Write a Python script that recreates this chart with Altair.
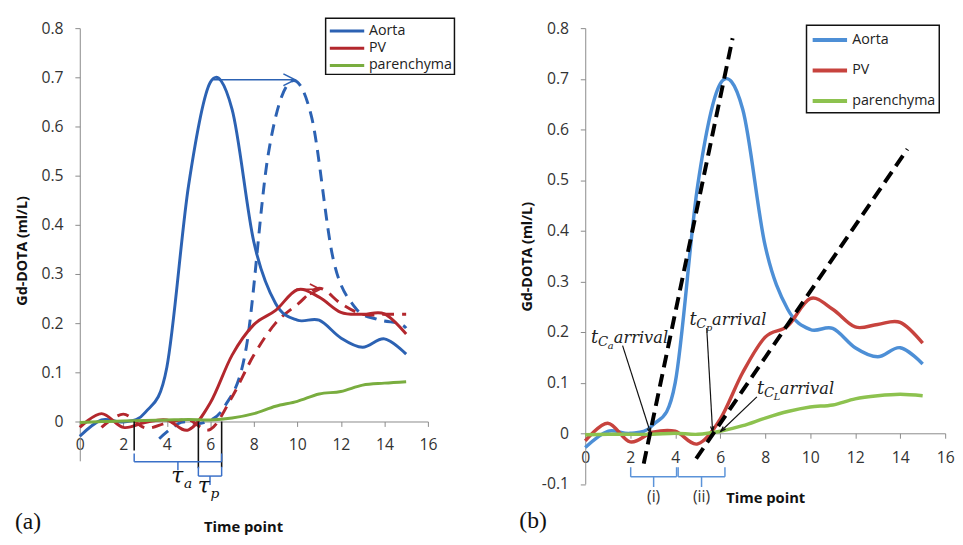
import math
import altair as alt
import pandas as pd

# ---------------- values ----------------
time_pts = list(range(16))
series_names = ["Aorta", "PV", "parenchyma"]

# panel (a)
aorta_a = [-0.03, 0.003, -0.001, 0.018, 0.11, 0.48, 0.69, 0.635, 0.365, 0.24, 0.206, 0.206, 0.17, 0.151, 0.168, 0.137]
pv_a = [-0.012, 0.016, -0.012, -0.002, 0.003, -0.017, 0.038, 0.135, 0.197, 0.226, 0.268, 0.253, 0.222, 0.218, 0.219, 0.178]
par_a = [-0.002, 0.0, 0.001, 0.002, 0.003, 0.004, 0.003, 0.007, 0.016, 0.031, 0.041, 0.056, 0.061, 0.074, 0.078, 0.081]
shift_aorta_x = [3.65, 4.65, 5.65, 6.65, 7.65, 8.65, 9.65, 10.65, 11.65, 12.65, 13.65, 14.65, 15.0]
shift_aorta_y = [-0.035, -0.002, -0.003, 0.03, 0.15, 0.54, 0.69, 0.62, 0.33, 0.232, 0.208, 0.2, 0.19]
shift_pv_x = list(range(1, 16))
shift_pv_y = [-0.012, 0.015, -0.013, -0.003, 0.003, -0.016, 0.05, 0.135, 0.2, 0.238, 0.271, 0.24, 0.218, 0.218, 0.218]

# panel (b)
aorta_b = [-0.028, 0.004, 0.0, 0.016, 0.1, 0.49, 0.69, 0.64, 0.37, 0.245, 0.205, 0.207, 0.169, 0.151, 0.169, 0.137]
pv_b = [-0.015, 0.02, -0.017, 0.002, 0.004, -0.021, 0.028, 0.12, 0.19, 0.212, 0.266, 0.245, 0.21, 0.215, 0.219, 0.178]
par_b = [-0.003, -0.002, -0.002, -0.002, 0.0, -0.002, 0.004, 0.015, 0.03, 0.043, 0.052, 0.056, 0.068, 0.074, 0.077, 0.074]
tangent_a_x = [2.6, 6.55]
tangent_a_y = [-0.06, 0.78]
tangent_p_x = [4.93, 14.32]
tangent_p_y = [-0.05, 0.561]

# annotations (a)
shift_arrow_x = [6.13, 9.9]      # aorta peak shift
shift_arrow_y = 0.695
pv_arrow_x = [9.95, 11.05]        # PV peak shift
pv_arrow_y = 0.269
marker_x = [2.5, 5.45, 6.52]      # black arrival markers
marker_bottom = [-0.059, -0.095, -0.093]
tau_a_span = [2.5, 6.52]
tau_p_span = [5.45, 6.52]

# annotations (b)
arrival_sub = ["a", "p", "L"]
arrival_label_x = [0.26, 4.63, 7.64]
arrival_label_y = [0.179, 0.214, 0.078]
arrow_from_x = [1.66, 5.40, 7.63]
arrow_from_y = [0.173, 0.208, 0.072]
arrow_to_x = [2.90, 5.66, 6.03]
arrow_to_y = [0.001, 0.004, 0.004]
interval_i = [2.02, 4.06]
interval_ii = [4.13, 6.21]

# ---------------- styling ----------------
SANS = "Open Sans"
SERIF = "DejaVu Serif"
colors_a = ["#2c62b3", "#b3272d", "#79ad3f"]
colors_b = ["#4d8fd6", "#c7433e", "#8dc24f"]
AXIS_GREY = "#8a8a8a"
LABEL_C = "#333333"

W_A, H_A, YD_A = 354, 440, [-0.08, 0.8]
W_B, H_B, YD_B = 366, 463.5, [-0.1, 0.8]
LABEL_EXPR = "replace(format(datum.value, '.1~f'), '\u2212', '-')"


def axes(width, height, ydom, yvals, xt, yt):
    kx = width / 16.0
    ky = height / (ydom[1] - ydom[0])
    xaxis = alt.Axis(values=list(range(0, 17, 2)), offset=-(0 - ydom[0]) * ky,
                     title="Time point", titleFont=SANS, titleFontSize=15, titleFontWeight="bold",
                     titleColor="#111", titleX=xt[0], titleY=xt[1], titleBaseline="middle",
                     labelFont=SANS, labelFontSize=16, labelColor=LABEL_C, labelPadding=xt[2],
                     tickSize=5, tickColor=AXIS_GREY, domainColor=AXIS_GREY, grid=False,
                     labelFlush=False, labelOverlap=False)
    yaxis = alt.Axis(values=yvals, labelExpr=LABEL_EXPR,
                     title="Gd-DOTA (ml/L)", titleFont=SANS, titleFontSize=14.5, titleFontWeight="bold",
                     titleColor="#111", titleX=yt[0], titleY=yt[1], titleBaseline="middle",
                     labelFont=SANS, labelFontSize=16, labelColor=LABEL_C, labelPadding=12,
                     tickSize=5, tickColor=AXIS_GREY, domainColor=AXIS_GREY, grid=False,
                     labelFlush=False, labelOverlap=False)
    xs = alt.Scale(domain=[0, 16], nice=False, zero=False)
    ys = alt.Scale(domain=ydom, nice=False, zero=False)

    def X(f):
        return alt.X(f, type="quantitative", scale=xs, axis=xaxis)

    def Y(f):
        return alt.Y(f, type="quantitative", scale=ys, axis=yaxis)
    return X, Y, kx, ky


def segs_layer(rows, X, Y, color, width=1.5, dash=None):
    df = pd.DataFrame(rows, columns=["x", "y", "x2", "y2"])
    kw = dict(color=color, strokeWidth=width)
    if dash:
        kw["strokeDash"] = dash
    return alt.Chart(df).mark_rule(**kw).encode(x=X("x"), y=Y("y"), x2=alt.X2("x2"), y2=alt.Y2("y2"))


def bracket(span, y, hook, tick):
    x0, x1 = span
    xc = (x0 + x1) / 2
    return [(x0, hook, x0, y), (x0, y, x1, y), (x1, y, x1, hook), (xc, y, xc, tick)]


def legend(lx, ly, row_pad, sw, pad):
    return alt.Legend(orient="none", legendX=lx, legendY=ly, title=None,
                      symbolType="M-1,0L3,0", symbolSize=306, symbolStrokeWidth=sw,
                      labelOffset=20.5, labelFont=SANS, labelFontSize=14.5, labelColor="#222",
                      strokeColor="#111", fillColor="white", padding=pad, rowPadding=row_pad)


def curves_df(a, p, q):
    rows = []
    for name, vals in zip(series_names, [a, p, q]):
        for t, v in zip(time_pts, vals):
            rows.append({"t": t, "v": v, "series": name})
    return pd.DataFrame(rows)


# ================= panel (a) =================
X, Y, kx, ky = axes(W_A, H_A, YD_A, [round(0.1 * i, 1) for i in range(9)],
                    (166, 107, 10), (-58, 226))

lines_a = alt.Chart(curves_df(aorta_a, pv_a, par_a)).mark_line(
    interpolate="cardinal", strokeWidth=3).encode(
    x=X("t"), y=Y("v"),
    color=alt.Color("series:N", sort=series_names,
                    scale=alt.Scale(domain=series_names, range=colors_a),
                    legend=legend(250, -10, 0.5, 3, 2.5)))

dash_blue = alt.Chart(pd.DataFrame({"t": shift_aorta_x, "v": shift_aorta_y})).mark_line(
    interpolate="cardinal", strokeWidth=3, strokeDash=[12, 8], color=colors_a[0]).encode(x=X("t"), y=Y("v"))
dash_red = alt.Chart(pd.DataFrame({"t": shift_pv_x, "v": shift_pv_y})).mark_line(
    interpolate="cardinal", strokeWidth=3, strokeDash=[12, 8], color=colors_a[1]).encode(x=X("t"), y=Y("v"))

arrow_blue = segs_layer([(shift_arrow_x[0], shift_arrow_y, shift_arrow_x[1], shift_arrow_y)], X, Y, colors_a[0], 1.5)
arrow_red = segs_layer([(pv_arrow_x[0], pv_arrow_y, pv_arrow_x[1], pv_arrow_y)], X, Y, colors_a[1], 1.5)
chev_blue = alt.Chart(pd.DataFrame({"x": [shift_arrow_x[1]], "y": [shift_arrow_y]})).mark_point(
    shape="M-2,-1L0,0L-2,1", filled=False, size=144, strokeWidth=1.5, color=colors_a[0], opacity=1).encode(
    x=X("x"), y=Y("y"))
chev_red = alt.Chart(pd.DataFrame({"x": [pv_arrow_x[1]], "y": [pv_arrow_y]})).mark_point(
    shape="M-2,-1L0,0L-2,1", filled=False, size=110, strokeWidth=1.8, color=colors_a[1], opacity=1).encode(
    x=X("x"), y=Y("y"))

markers = segs_layer([(mx, 0, mx, mb) for mx, mb in zip(marker_x, marker_bottom)], X, Y, "#111", 1.6)
brackets_a = segs_layer(bracket(tau_a_span, -0.082, -0.065, -0.099) +
                        bracket(tau_p_span, -0.111, -0.092, -0.129), X, Y, "#3a70c8", 1.5)

tau_df = pd.DataFrame({"x": [4.2, 5.42], "y": [-0.125, -0.145], "s": ["a", "p"]})
tau_main = alt.Chart(tau_df).mark_text(text="τ", font=SERIF, fontStyle="italic", fontSize=22,
                                       align="left", baseline="alphabetic", color="#111").encode(x=X("x"), y=Y("y"))
tau_sub = alt.Chart(tau_df).mark_text(font=SERIF, fontStyle="italic", fontSize=14, dx=13, dy=5,
                                      align="left", baseline="alphabetic", color="#111").encode(
    x=X("x"), y=Y("y"), text="s:N")
tag_a = alt.Chart(pd.DataFrame({"x": [-2.98], "y": [-0.205], "s": ["(a)"]})).mark_text(
    font="Liberation Serif", fontSize=24, align="left", baseline="middle", color="#111").encode(
    x=X("x"), y=Y("y"), text="s:N")

panel_a = alt.layer(dash_blue, dash_red, lines_a, arrow_blue, arrow_red, chev_blue, chev_red,
                    markers, brackets_a, tau_main, tau_sub, tag_a).properties(width=W_A, height=H_A)

# ================= panel (b) =================
X, Y, kx, ky = axes(W_B, H_B, YD_B, [round(0.1 * i, 1) for i in range(-1, 9)],
                    (183, 65, 12), (-59, 232))

lines_b = alt.Chart(curves_df(aorta_b, pv_b, par_b)).mark_line(
    interpolate="cardinal", strokeWidth=3.5).encode(
    x=X("t"), y=Y("v"),
    color=alt.Color("series:N", sort=series_names,
                    scale=alt.Scale(domain=series_names, range=colors_b),
                    legend=legend(225, -3, 12, 4, 4)))

tangents = segs_layer([(tangent_a_x[0], tangent_a_y[0], tangent_a_x[1], tangent_a_y[1]),
                       (tangent_p_x[0], tangent_p_y[0], tangent_p_x[1], tangent_p_y[1])],
                      X, Y, "#000", 4, [13, 7])

arrows = segs_layer(list(zip(arrow_from_x, arrow_from_y, arrow_to_x, arrow_to_y)), X, Y, "#111", 1.2)
angles = []
for fx, fy, tx, ty in zip(arrow_from_x, arrow_from_y, arrow_to_x, arrow_to_y):
    dxp = (tx - fx) * kx
    dyp = -(ty - fy) * ky
    angles.append(math.degrees(math.atan2(-dxp, dyp)) % 360)
heads = alt.Chart(pd.DataFrame({"x": arrow_to_x, "y": arrow_to_y, "ang": angles})).mark_point(
    shape="M-0.7,-2L0,0L0.7,-2", filled=False, size=25, strokeWidth=1.3, color="#111", opacity=1).encode(
    x=X("x"), y=Y("y"), angle=alt.Angle("ang:Q", scale=None))

lab_df = pd.DataFrame({"x": arrival_label_x, "y": arrival_label_y, "s": arrival_sub})
lab_t = alt.Chart(lab_df).mark_text(text="t", font=SERIF, fontStyle="italic", fontSize=18,
                                    align="left", baseline="alphabetic", color="#222").encode(x=X("x"), y=Y("y"))
lab_c = alt.Chart(lab_df).mark_text(text="C", font=SERIF, fontStyle="italic", fontSize=13.5, dx=7, dy=3,
                                    align="left", baseline="alphabetic", color="#222").encode(x=X("x"), y=Y("y"))
lab_s = alt.Chart(lab_df).mark_text(font=SERIF, fontStyle="italic", fontSize=10, dx=17, dy=6,
                                    align="left", baseline="alphabetic", color="#222").encode(
    x=X("x"), y=Y("y"), text="s:N")
lab_arr = alt.Chart(lab_df).mark_text(text="arrival", font=SERIF, fontStyle="italic", fontSize=16.5, dx=23,
                                      align="left", baseline="alphabetic", color="#222").encode(x=X("x"), y=Y("y"))

brackets_b = segs_layer(bracket(interval_i, -0.086, -0.067, -0.106) +
                        bracket(interval_ii, -0.086, -0.067, -0.106), X, Y, "#5b93d9", 1.5)
roman = alt.Chart(pd.DataFrame({"x": [sum(interval_i) / 2, sum(interval_ii) / 2], "y": [-0.125, -0.125],
                                "s": ["(i)", "(ii)"]})).mark_text(
    font=SANS, fontSize=16, baseline="middle", color=LABEL_C).encode(x=X("x"), y=Y("y"), text="s:N")
tag_b = alt.Chart(pd.DataFrame({"x": [-2.93], "y": [-0.174], "s": ["(b)"]})).mark_text(
    font="Liberation Serif", fontSize=24, align="left", baseline="middle", color="#111").encode(
    x=X("x"), y=Y("y"), text="s:N")

panel_b = alt.layer(lines_b, tangents, arrows, heads, lab_t, lab_c, lab_s, lab_arr,
                    brackets_b, roman, tag_b).properties(width=W_B, height=H_B)

chart = alt.hconcat(panel_a, panel_b, spacing=160, bounds="flush").resolve_scale(
    x="independent", y="independent", color="independent").properties(
    padding={"left": 7, "top": 5, "right": 0, "bottom": 0}, background="white").configure_view(
    stroke=None).configure_legend(strokeWidth=1.5)

chart.save("out.html", embed_options={"renderer": "svg", "actions": False})
